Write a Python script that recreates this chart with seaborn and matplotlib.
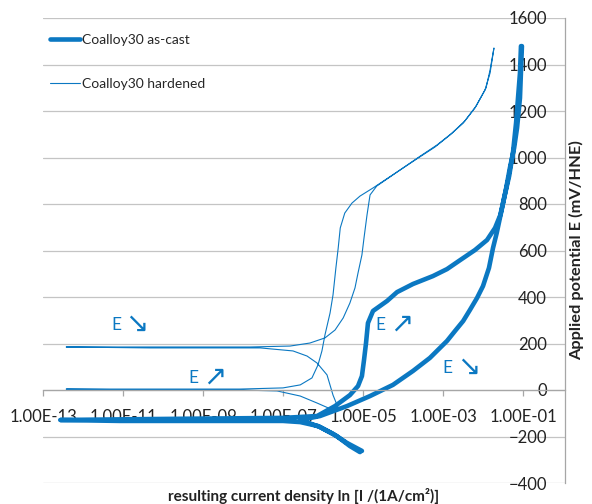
import matplotlib

matplotlib.use("Agg")

import matplotlib.pyplot as plt
import matplotlib.ticker as mticker
import pandas as pd
import seaborn as sns

BLUE = "#0b78c2"
GRID = "#c4c4c4"
AXIS_GREY = "#a6a6a6"

# Coalloy30 as-cast (thick): scan order, current density in A/cm2, potential in mV/HNE
ascast_current = [
    9.4e-6, 4.0e-6, 1.8e-6, 7.5e-7, 2.7e-7, 1.0e-7, 8.4e-10, 8.4e-12, 2.7e-13,
    4.7e-11, 1.0e-7, 7.1e-7, 2.0e-6, 4.7e-6, 7.5e-6, 9.4e-6, 1.06e-5, 1.19e-5,
    1.33e-5, 1.78e-5, 4.0e-5, 7.1e-5, 1.78e-4, 5.6e-4, 1.26e-3, 2.7e-3, 6.3e-3,
    1.26e-2, 2.0e-2, 2.7e-2, 3.5e-2, 4.5e-2, 5.6e-2, 6.7e-2, 7.5e-2, 8.4e-2,
    8.9e-2, 9.4e-2, 8.4e-2, 7.1e-2, 6.0e-2, 4.7e-2, 3.8e-2, 3.0e-2, 2.2e-2,
    1.78e-2, 1.41e-2, 1.0e-2, 7.1e-3, 4.7e-3, 3.2e-3, 2.0e-3, 1.26e-3, 4.7e-4,
    1.78e-4, 5.6e-5, 1.5e-5, 4.0e-6, 8.4e-7, 2.7e-7, 8.4e-7, 2.2e-6, 4.7e-6,
    8.4e-6,
]
ascast_potential = [
    -262, -228, -189, -155, -138, -133, -133, -133, -129,
    -125, -120, -112, -69, -22, 17, 60, 129, 202,
    288, 340, 383, 421, 456, 490, 520, 559, 602,
    645, 697, 752, 838, 920, 1019, 1148, 1256, 1363,
    1479, 1479, 1256, 1127, 1041, 955, 869, 783, 675,
    611, 525, 447, 396, 344, 297, 254, 211, 138,
    82, 22, -26, -69, -112, -129, -159, -198, -241,
    -267,
]

# Coalloy30 hardened (thin)
hardened_current = [
    2.0e-6, 7.1e-7, 2.7e-7, 7.1e-8, 8.4e-9, 4.7e-11, 3.8e-13, 4.7e-11, 8.4e-9,
    1.0e-7, 2.7e-7, 5.3e-7, 7.5e-7, 9.4e-7, 1.12e-6, 1.5e-6, 1.78e-6, 2.1e-6,
    2.4e-6, 2.7e-6, 3.5e-6, 5.3e-6, 8.4e-6, 1.78e-5, 8.4e-5, 2.7e-4, 7.1e-4,
    1.68e-3, 3.5e-3, 6.7e-3, 1.19e-2, 1.5e-2, 1.88e-2, 1.5e-2, 1.12e-2, 6.3e-3,
    3.2e-3, 1.5e-3, 6.3e-4, 2.4e-4, 8.4e-5, 2.2e-5, 1.5e-5, 1.26e-5, 1.06e-5,
    9.4e-6, 7.5e-6, 6.3e-6, 4.7e-6, 3.2e-6, 2.0e-6, 1.12e-6, 4.7e-7, 1.5e-7,
    1.5e-8, 4.7e-11, 3.8e-13, 4.7e-11, 2.7e-8, 1.78e-7, 4.0e-7, 7.1e-7, 1.26e-6,
    1.78e-6, 2.4e-6,
]
hardened_potential = [
    -90, -56, -26, -4, 0, 0, 4, 4, 4,
    9, 22, 52, 108, 168, 237, 331, 409, 525,
    611, 697, 761, 804, 834, 869, 946, 1006, 1054,
    1105, 1157, 1221, 1299, 1376, 1471, 1363, 1290, 1213,
    1148, 1097, 1045, 998, 946, 877, 839, 753, 654,
    581, 503, 439, 374, 310, 258, 224, 202, 189,
    185, 185, 185, 181, 181, 168, 146, 116, 65,
    -22, -77,
]

series_labels = ["Coalloy30 as-cast", "Coalloy30 hardened"]

x_ticks = [1e-13, 1e-11, 1e-9, 1e-7, 1e-5, 1e-3, 1e-1]
y_ticks = [-400, -200, 0, 200, 400, 600, 800, 1000, 1200, 1400, 1600]

# scan direction marks: (current, potential, arrow)
direction_marks = [
    (1.38e-11, 280, "\u2198"),
    (1.19e-9, 52, "\u2197"),
    (5.6e-5, 280, "\u2197"),
    (2.66e-3, 95, "\u2198"),
]


def main() -> None:
    sns.set_theme(style="white")
    plt.rcParams["font.family"] = ["Lato", "DejaVu Sans"]

    ascast = pd.DataFrame({"current": ascast_current, "potential": ascast_potential})
    hardened = pd.DataFrame({"current": hardened_current, "potential": hardened_potential})

    fig = plt.figure(figsize=(5.92, 5.04), dpi=100)
    ax = fig.add_axes([43 / 592, 1 - 483 / 504, 522 / 592, 465 / 504])

    sns.lineplot(data=ascast, x="current", y="potential", sort=False, estimator=None,
                 color=BLUE, linewidth=3.3, label=series_labels[0], ax=ax)
    sns.lineplot(data=hardened, x="current", y="potential", sort=False, estimator=None,
                 color=BLUE, linewidth=0.8, label=series_labels[1], ax=ax)

    ax.set_xscale("log")
    ax.set_xlim(1e-13, 10 ** 0.05)
    ax.set_ylim(-400, 1600)
    ax.set_axisbelow("line")

    ax.set_xticks(x_ticks)
    ax.xaxis.set_minor_locator(mticker.NullLocator())
    ax.xaxis.set_major_formatter(mticker.FuncFormatter(lambda v, pos: f"{v:.2E}"))
    ax.set_yticks(y_ticks)

    ax.yaxis.grid(True, color=GRID, linewidth=0.9)
    ax.xaxis.grid(False)

    for side in ["top", "left"]:
        ax.spines[side].set_visible(False)
    ax.spines["bottom"].set_position(("data", 0))
    ax.spines["bottom"].set_color(AXIS_GREY)
    ax.spines["bottom"].set_linewidth(0.9)
    ax.spines["right"].set_color(AXIS_GREY)
    ax.spines["right"].set_linewidth(0.9)

    ax.tick_params(axis="x", direction="out", length=4, width=0.9, color=AXIS_GREY,
                   labelsize=12, labelcolor="#222222", pad=10, bottom=True)
    ax.yaxis.tick_right()
    ax.tick_params(axis="y", length=0, pad=-13, labelsize=12, labelcolor="#222222")
    for lab in ax.get_yticklabels():
        lab.set_horizontalalignment("right")

    ax.set_xlabel("")
    ax.set_ylabel("")
    ax.text(0.5, -0.028, "resulting current density ln [I /(1A/cm\u00b2)]", transform=ax.transAxes,
            ha="center", va="center", fontsize=11, fontweight="bold", color="#222222")
    ax.text(1.023, 0.5, "Applied potential E (mV/HNE)", transform=ax.transAxes, rotation=90,
            ha="center", va="center", fontsize=11.8, fontweight="bold", color="#222222")

    for xv, yv, arrow in direction_marks:
        ax.annotate("E", xy=(xv, yv), xytext=(-5.3, 0), textcoords="offset points",
                    ha="right", va="center", fontsize=12.5, color=BLUE)
        ax.annotate(arrow, xy=(xv, yv), xytext=(-2.3, 0.6), textcoords="offset points",
                    ha="left", va="center", fontsize=20, color=BLUE,
                    family=["DejaVu Sans"])

    ax.legend(loc="upper left", bbox_to_anchor=(0.0134, 0.966), frameon=False, fontsize=10,
              borderpad=0, borderaxespad=0, handlelength=2.15, handletextpad=0.15,
              labelspacing=2.3)

    fig.savefig("out.png", dpi=100)
    plt.close(fig)


if __name__ == "__main__":
    main()
